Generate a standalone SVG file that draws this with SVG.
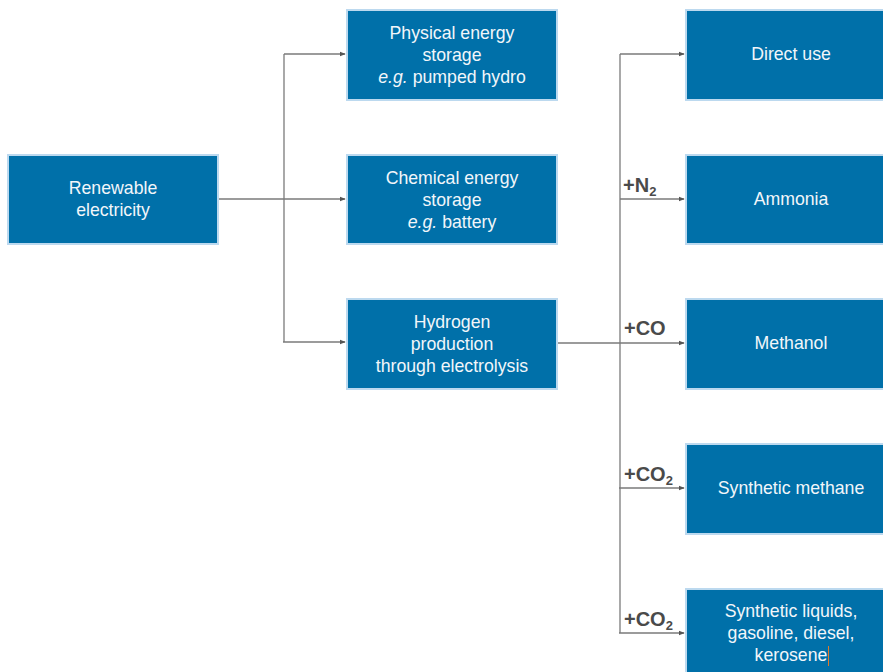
<svg xmlns="http://www.w3.org/2000/svg" width="883" height="672" viewBox="0 0 883 672">
<style>
.box{fill:#0070a9;stroke:#bcd9ef;stroke-width:2}
.t{font-family:"Liberation Sans",Arial,sans-serif;font-size:17.7px;fill:#f2f6fa;text-anchor:middle}
.lbl{font-family:"Liberation Sans",Arial,sans-serif;font-size:20px;font-weight:bold;fill:#4a4a4a}
.sub{font-size:13px}
.c{fill:none;stroke:#7a7a7a;stroke-width:1.3}
</style>
<defs>
<marker id="ah" viewBox="0 0 8 8" refX="7" refY="4" markerWidth="6" markerHeight="6" markerUnits="userSpaceOnUse" orient="auto">
<path d="M0,1 L8,4 L0,7 Z" fill="#555"/>
</marker>
</defs>
<rect width="883" height="672" fill="#fff"/>
<g id="connectors">
<line class="c" x1="218" y1="199" x2="345" y2="199" marker-end="url(#ah)"/>
<line class="c" x1="284" y1="54" x2="284" y2="342"/>
<line class="c" x1="284" y1="54" x2="345" y2="54" marker-end="url(#ah)"/>
<line class="c" x1="283" y1="342" x2="345" y2="342" marker-end="url(#ah)"/>
<line class="c" x1="557" y1="343" x2="684" y2="343" marker-end="url(#ah)"/>
<line class="c" x1="620" y1="54" x2="620" y2="633"/>
<line class="c" x1="620" y1="54" x2="684" y2="54" marker-end="url(#ah)"/>
<line class="c" x1="620" y1="199" x2="684" y2="199" marker-end="url(#ah)"/>
<line class="c" x1="619" y1="488" x2="684" y2="488" marker-end="url(#ah)"/>
<line class="c" x1="619" y1="633" x2="684" y2="633" marker-end="url(#ah)"/>
<text class="lbl" x="623" y="192">+N<tspan class="sub" dy="4">2</tspan></text>
<text class="lbl" x="624" y="335">+CO</text>
<text class="lbl" x="624" y="481">+CO<tspan class="sub" dy="4">2</tspan></text>
<text class="lbl" x="624" y="626">+CO<tspan class="sub" dy="4">2</tspan></text>
</g>
<g id="renewable">
<rect class="box" x="8" y="155" width="210" height="89"/>
<text class="t" x="113" y="194">Renewable</text>
<text class="t" x="113" y="216">electricity</text>
</g>
<g id="physical">
<rect class="box" x="347" y="10" width="210" height="90"/>
<text class="t" x="452" y="39">Physical energy</text>
<text class="t" x="452" y="61">storage</text>
<text class="t" x="452" y="83"><tspan font-style="italic">e.g.</tspan> pumped hydro</text>
</g>
<g id="chemical">
<rect class="box" x="347" y="155" width="210" height="89"/>
<text class="t" x="452" y="184">Chemical energy</text>
<text class="t" x="452" y="206">storage</text>
<text class="t" x="452" y="228"><tspan font-style="italic">e.g.</tspan> battery</text>
</g>
<g id="hydrogen">
<rect class="box" x="347" y="299" width="210" height="90"/>
<text class="t" x="452" y="328">Hydrogen</text>
<text class="t" x="452" y="350">production</text>
<text class="t" x="452" y="372">through electrolysis</text>
</g>
<g id="direct">
<rect class="box" x="686" y="10" width="210" height="90"/>
<text class="t" x="791" y="60">Direct use</text>
</g>
<g id="ammonia">
<rect class="box" x="686" y="155" width="210" height="89"/>
<text class="t" x="791" y="205">Ammonia</text>
</g>
<g id="methanol">
<rect class="box" x="686" y="299" width="210" height="90"/>
<text class="t" x="791" y="349">Methanol</text>
</g>
<g id="methane">
<rect class="box" x="686" y="444" width="210" height="90"/>
<text class="t" x="791" y="494">Synthetic methane</text>
</g>
<g id="liquids">
<rect class="box" x="686" y="589" width="210" height="90"/>
<text class="t" x="791" y="617">Synthetic liquids,</text>
<text class="t" x="791" y="639">gasoline, diesel,</text>
<text class="t" x="791" y="661">kerosene</text>
<line x1="828.5" y1="646" x2="828.5" y2="666" stroke="#e07a2a" stroke-width="1"/>
</g>
</svg>
